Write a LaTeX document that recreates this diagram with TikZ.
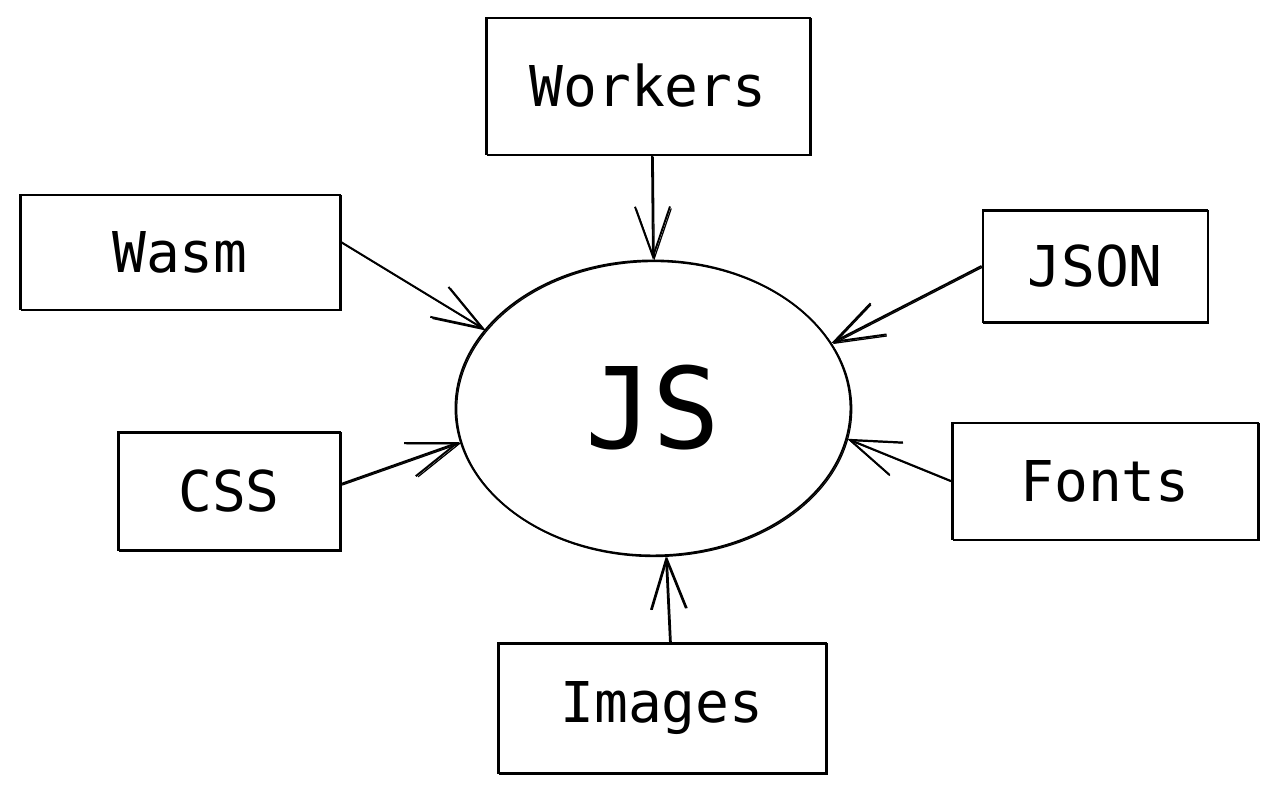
\documentclass[tikz,border=0pt]{standalone}
\usepackage{fontspec}
\setmonofont{DejaVu Sans Mono}
\usepackage{tikz}
\usetikzlibrary{shapes.geometric, arrows.meta}

\begin{document}
\begin{tikzpicture}[
            sketch/.style={draw, line width=1.1pt,
                postaction={draw, line width=0.7pt, transform canvas={shift={(0.7pt,-0.6pt)}}}}, % doubled hand-drawn stroke
            srcbox/.style={rectangle, sketch, fill=white, font=\ttfamily\fontsize{32}{38}\selectfont},
            core/.style={ellipse, sketch, fill=white, minimum width=7.9cm, minimum height=5.9cm, font=\ttfamily\fontsize{64}{70}\selectfont},
            feed/.style={sketch, -{Straight Barb[length=1cm, width=0.7cm]}}
            ]

                \useasboundingbox (0,0) rectangle (25.6,15.88);

                % Central node
                \node[core] (js) at (13.06,7.72) {JS};

                % Surrounding sources
                \node[srcbox, minimum width=6.48cm, minimum height=2.74cm] (workers) at (12.96,14.16) {Workers};
                \node[srcbox, minimum width=6.4cm, minimum height=2.3cm] (wasm) at (3.6,10.84) {Wasm};
                \node[srcbox, minimum width=4.5cm, minimum height=2.24cm] (json) at (21.9,10.56) {JSON};
                \node[srcbox, minimum width=4.44cm, minimum height=2.36cm] (css) at (4.58,6.06) {CSS};
                \node[srcbox, minimum width=6.12cm, minimum height=2.34cm] (fonts) at (22.1,6.26) {Fonts};
                \node[srcbox, minimum width=6.56cm, minimum height=2.6cm] (images) at (13.24,1.72) {Images};

                % Arrows into the centre
                \draw[feed] ([xshift=0.08cm]workers.south) -- (js.north);
                \draw[feed] ([yshift=0.2cm]wasm.east) -- (js.155);
                \draw[feed] (json.west) -- (js.20);
                \draw[feed] ([yshift=0.14cm]css.east) -- (js.190);
                \draw[feed] (fonts.west) -- (js.-9);
                \draw[feed] ([xshift=0.16cm]images.north) -- (js.-85);

            \end{tikzpicture}
\end{document}
